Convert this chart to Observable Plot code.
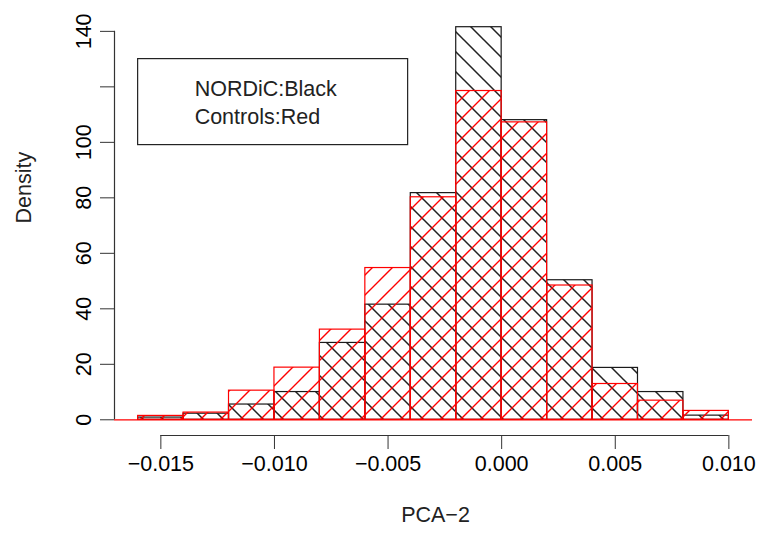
<!DOCTYPE html>
<html><head><meta charset="utf-8">
<script src="https://cdn.jsdelivr.net/npm/d3@7"></script>
<script src="https://cdn.jsdelivr.net/npm/@observablehq/plot@0.6"></script>
<style>body{margin:0;background:#fff} svg{display:block}</style>
</head><body><div id="chart"></div>
<script>
// bin breaks (PCA-2) and densities
const breaks = [-0.016,-0.014,-0.012,-0.010,-0.008,-0.006,-0.004,-0.002,0.000,0.002,0.004,0.006,0.008,0.010];
const nordicDensity  = [0.8,2.2,5.5,10.0,27.7,41.5,81.7,141.5,108.0,50.3,18.7,10.0,1.5];
const controlDensity = [1.4,2.6,10.5,18.8,32.5,54.7,80.2,118.5,107.2,48.4,12.9,6.9,3.2];
const xTicks = [-0.015,-0.010,-0.005,0.000,0.005,0.010];
const xTickLabels = ["−0.015","−0.010","−0.005","0.000","0.005","0.010"];
const yTicks = [0,20,40,60,80,100,120,140];
const yTickLabels = ["0","20","40","60","80","100","","140"];
const legendLabels = ["NORDiC:Black","Controls:Red"];
const legendAnchor = [-0.016, 130];
const xLabel = "PCA−2";
const yLabel = "Density";

const nordic = nordicDensity.map((d,i)=>({x1:breaks[i], x2:breaks[i+1], y:d}));
const controls = controlDensity.map((d,i)=>({x1:breaks[i], x2:breaks[i+1], y:d}));

const xr = breaks[breaks.length-1]-breaks[0];
const xDomain = [breaks[0]-0.04*xr, breaks[breaks.length-1]+0.04*xr];
const ymax = d3.max(nordicDensity);
const yDomain = [-0.04*ymax, 1.04*ymax];
const FS = 21.5;

const svg = Plot.plot({
  width: 762, height: 542,
  marginLeft: 114, marginRight: 10, marginTop: 11, marginBottom: 107,
  style: {fontFamily: "'Liberation Sans', Arial, sans-serif", fontSize: FS + "px", background: "#fff"},
  x: {domain: xDomain, axis: null},
  y: {domain: yDomain, axis: null},
  marks: [
    Plot.rectY(nordic, {x1:"x1", x2:"x2", y:"y", fill:"url(#hatchBlack)", stroke:"#1a1a1a", strokeWidth:1.2}),
    Plot.rectY(controls, {x1:"x1", x2:"x2", y:"y", fill:"url(#hatchRed)", stroke:"#ff0000", strokeWidth:1.2}),
    Plot.ruleY([0], {stroke:"#ff0000", strokeWidth:1.3}),
    Plot.axisX({ticks: xTicks, tickSize: 14, tickPadding: 6, tickFormat: d => xTickLabels[xTicks.indexOf(d)], fontSize: FS, label: null, stroke:"#333"}),
    Plot.axisY({ticks: yTicks, tickSize: 14, tickPadding: 10, tickRotate: -90, tickFormat: d => yTickLabels[yTicks.indexOf(d)], fontSize: FS, label: null, stroke:"#333"}),
    Plot.ruleY([yDomain[0]], {x1: xTicks[0], x2: xTicks[xTicks.length-1], stroke:"#333", strokeWidth:1.2}),
    Plot.ruleX([xDomain[0]], {y1: yTicks[0], y2: yTicks[yTicks.length-1], stroke:"#333", strokeWidth:1.2}),
    Plot.text([yLabel], {frameAnchor:"left", dx:-90, rotate:-90, fontSize: FS, fill:"#222"}),
    Plot.text([xLabel], {frameAnchor:"bottom", dy:86, dx:2, fontSize: FS, fill:"#222"})
  ]
});

const s = d3.select(svg);
const defs = s.insert("defs", ":first-child");
const pb = defs.append("pattern").attr("id","hatchBlack").attr("patternUnits","userSpaceOnUse")
  .attr("width",20).attr("height",20).attr("x",4).attr("y",0);
pb.append("path").attr("d","M-5,-5L25,25M-5,15L5,25M15,-5L25,5").attr("stroke","#222").attr("stroke-width",1.5).attr("fill","none");
const pr = defs.append("pattern").attr("id","hatchRed").attr("patternUnits","userSpaceOnUse")
  .attr("width",20).attr("height",20).attr("x",0).attr("y",0);
pr.append("path").attr("d","M-5,25L25,-5M-5,5L5,-5M15,25L25,15").attr("stroke","#ff0000").attr("stroke-width",1.4).attr("fill","none");

// legend box
const lx = svg.scale("x").apply(legendAnchor[0]);
const ly = svg.scale("y").apply(legendAnchor[1]);
const lg = s.append("g").attr("text-anchor","start");
lg.append("rect").attr("x",lx).attr("y",ly).attr("width",270).attr("height",86)
  .attr("fill","#fff").attr("stroke","#222").attr("stroke-width",1.2);
legendLabels.forEach((t,i)=>{
  lg.append("text").attr("x",lx+57).attr("y",ly+37+i*28).attr("fill","#222")
    .attr("text-anchor","start").attr("font-size",FS).text(t);
});
document.getElementById("chart").appendChild(svg);
</script>
</body></html>
